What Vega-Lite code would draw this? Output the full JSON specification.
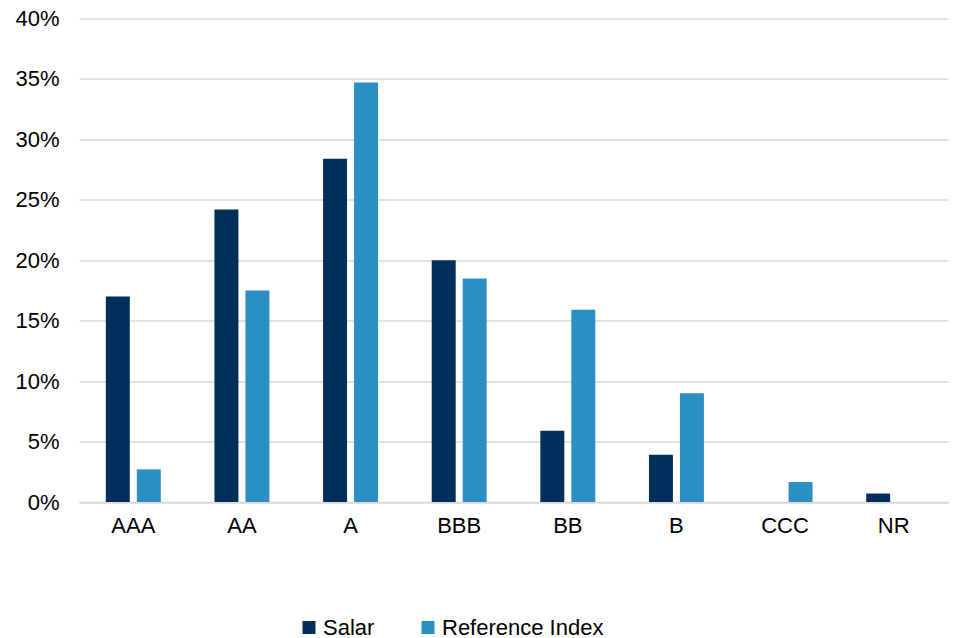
{
  "$schema": "https://vega.github.io/schema/vega-lite/v6.json",
  "autosize": {"type": "none"},
  "width": 869,
  "height": 483.5,
  "padding": {"left": 79, "top": 18.5, "right": 6, "bottom": 136},
  "background": "white",
  "config": {
    "view": {"stroke": null},
    "font": "Liberation Sans"
  },
  "data": {
    "values": [
      {"rating": "AAA", "series": "Salar", "value": 0.170},
      {"rating": "AAA", "series": "Reference Index", "value": 0.027},
      {"rating": "AA", "series": "Salar", "value": 0.242},
      {"rating": "AA", "series": "Reference Index", "value": 0.175},
      {"rating": "A", "series": "Salar", "value": 0.284},
      {"rating": "A", "series": "Reference Index", "value": 0.347},
      {"rating": "BBB", "series": "Salar", "value": 0.200},
      {"rating": "BBB", "series": "Reference Index", "value": 0.185},
      {"rating": "BB", "series": "Salar", "value": 0.059},
      {"rating": "BB", "series": "Reference Index", "value": 0.159},
      {"rating": "B", "series": "Salar", "value": 0.039},
      {"rating": "B", "series": "Reference Index", "value": 0.090},
      {"rating": "CCC", "series": "Salar", "value": 0.0},
      {"rating": "CCC", "series": "Reference Index", "value": 0.0165},
      {"rating": "NR", "series": "Salar", "value": 0.007},
      {"rating": "NR", "series": "Reference Index", "value": 0.0}
    ]
  },
  "mark": {"type": "bar"},
  "encoding": {
    "x": {
      "field": "rating",
      "type": "nominal",
      "sort": ["AAA", "AA", "A", "BBB", "BB", "B", "CCC", "NR"],
      "scale": {"paddingInner": 0.494, "paddingOuter": 0.247},
      "axis": {
        "title": null,
        "labelAngle": 0,
        "labelFont": "Liberation Sans",
        "labelFontSize": 22,
        "labelColor": "#000000",
        "ticks": false,
        "domain": true,
        "domainColor": "#d9d9d9",
        "domainWidth": 1.5,
        "labelPadding": 13
      }
    },
    "xOffset": {
      "field": "series",
      "type": "nominal",
      "sort": ["Salar", "Reference Index"],
      "scale": {"paddingInner": 0.226, "paddingOuter": 0}
    },
    "y": {
      "field": "value",
      "type": "quantitative",
      "scale": {"domain": [0, 0.4], "nice": false},
      "axis": {
        "title": null,
        "format": ".0%",
        "values": [0, 0.05, 0.1, 0.15, 0.2, 0.25, 0.3, 0.35, 0.4],
        "labelFont": "Liberation Sans",
        "labelFontSize": 22,
        "labelColor": "#000000",
        "ticks": false,
        "domain": false,
        "grid": true,
        "gridColor": "#d9d9d9",
        "gridWidth": 1.5,
        "labelPadding": 20
      }
    },
    "color": {
      "field": "series",
      "type": "nominal",
      "sort": ["Salar", "Reference Index"],
      "scale": {"domain": ["Salar", "Reference Index"], "range": ["#00305a", "#2b8fc3"]},
      "legend": {
        "title": null,
        "orient": "none",
        "legendX": 219,
        "legendY": 598,
        "direction": "horizontal",
        "columns": 2,
        "columnPadding": 42,
        "symbolType": "square",
        "symbolSize": 169,
        "symbolStrokeWidth": 0,
        "labelFont": "Liberation Sans",
        "labelFontSize": 22,
        "labelColor": "#000000",
        "labelOffset": 3,
        "labelLimit": 400
      }
    }
  }
}
